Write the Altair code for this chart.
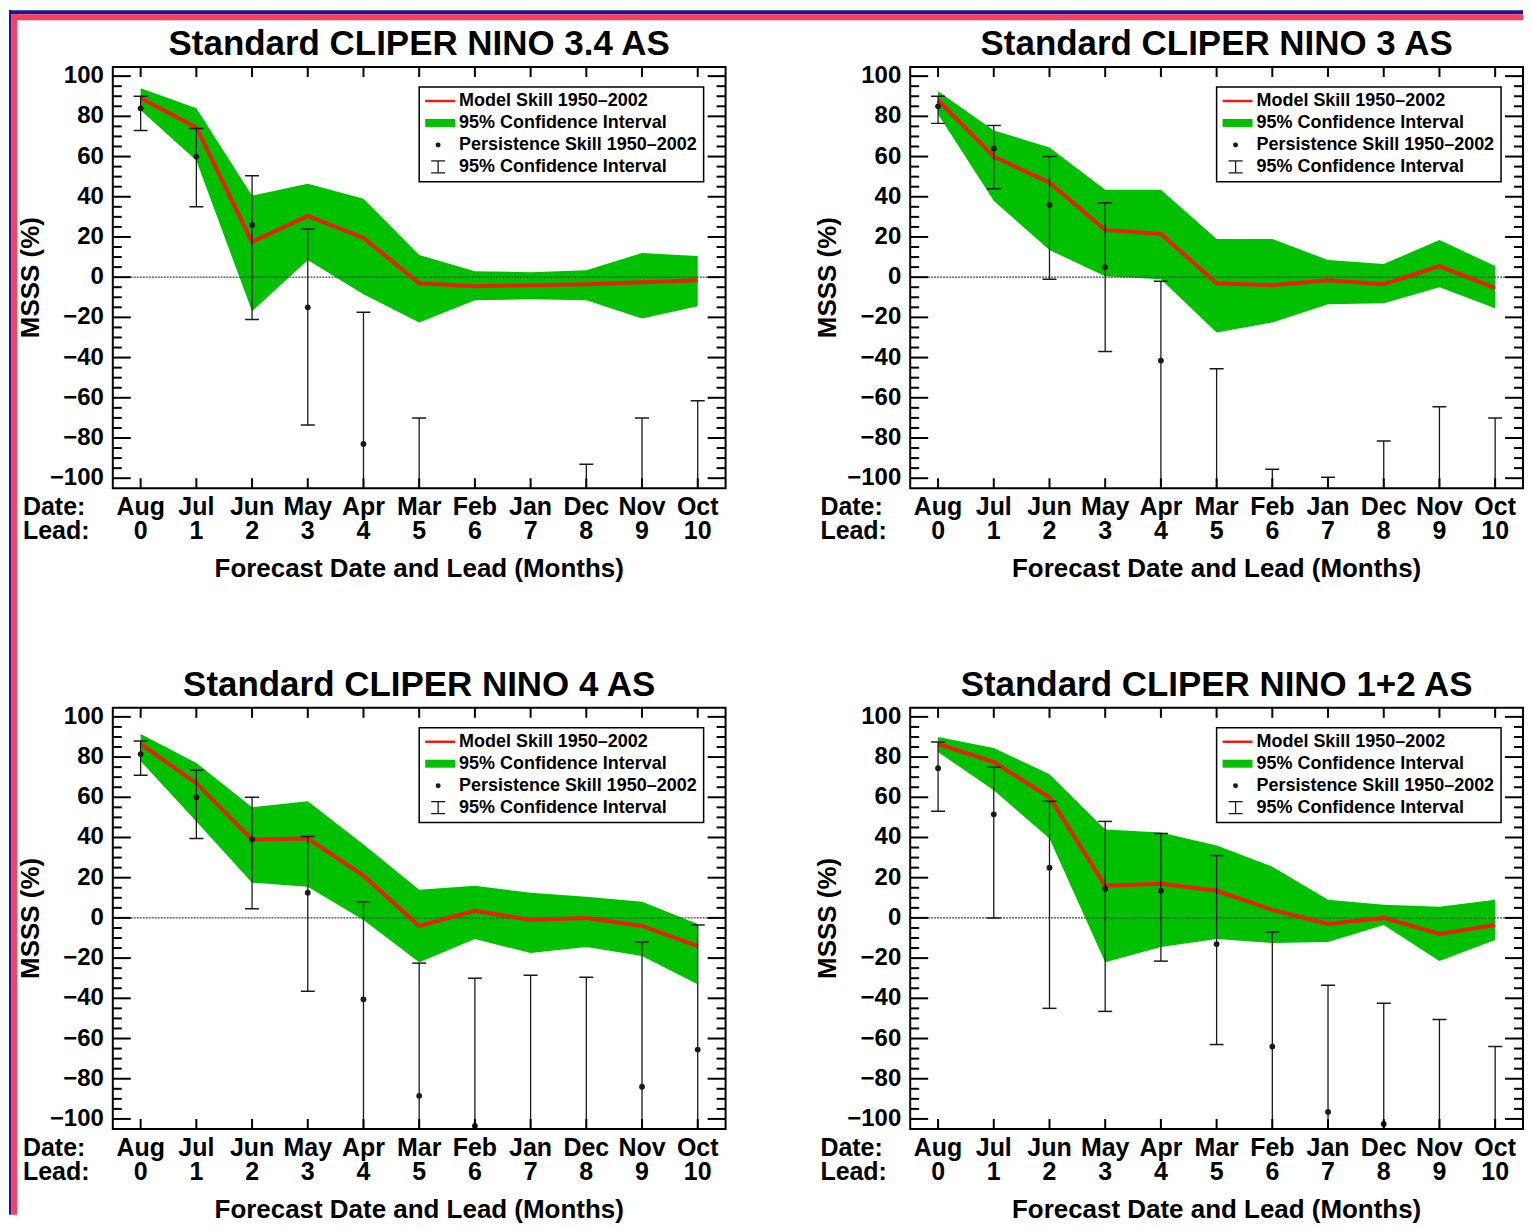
import altair as alt
import pandas as pd

# ---------------- data ----------------
months = ["Aug", "Jul", "Jun", "May", "Apr", "Mar", "Feb", "Jan", "Dec", "Nov", "Oct"]
leads = list(range(11))
titles = ["Standard CLIPER NINO 3.4 AS", "Standard CLIPER NINO 3 AS",
          "Standard CLIPER NINO 4 AS", "Standard CLIPER NINO 1+2 AS"]

# NINO 3.4
model_34 = [89, 74.5, 17.5, 30.5, 19.5, -3, -4.5, -4, -3.5, -2.5, -1.5]
hi_34 = [94, 84, 40.5, 46.5, 39, 11, 3, 2.5, 3.5, 12, 10.5]
lo_34 = [83, 58, -17, 8.5, -8.5, -22.5, -11.5, -11, -11.5, -20.5, -14.5]
pers_34 = [84, 60, 26, -15, -83, -135, -150, -160, -140, -125, -118]
ebhi_34 = [90, 74, 50.5, 24, -17.5, -70, -108, -112, -93, -70, -61.5]
eblo_34 = [73, 35, -21, -73.5, -150, -200, -190, -210, -190, -180, -175]

# NINO 3
model_3 = [88, 60, 47, 23.5, 21.5, -3, -4, -1.5, -3.5, 5.5, -5.5]
hi_3 = [92.5, 73, 64.5, 43.5, 43.5, 19, 19, 8.5, 6.5, 18.5, 5.5]
lo_3 = [81, 38, 13.5, 0.5, -1, -27.5, -22.5, -13.5, -13, -5, -15.5]
pers_3 = [85, 64, 36, 5, -41.5, -130, -150, -160, -140, -120, -125]
ebhi_3 = [90, 75.5, 60, 37, -2, -45.5, -95.5, -99.5, -81.5, -64.5, -70]
eblo_3 = [76.5, 44, -1, -37, -150, -200, -200, -200, -200, -190, -190]

# NINO 4
model_4 = [86.5, 67, 39, 39.5, 21, -4, 3.5, -1, 0, -4, -14]
hi_4 = [91.5, 77, 55, 58, 36.5, 14, 16, 12.5, 10.5, 8, -3]
lo_4 = [78, 48, 17.5, 15.5, -1, -22, -10.5, -17.5, -14.5, -19, -33]
pers_4 = [81.5, 60, 39, 12.5, -40.5, -88.5, -103.5, -115, -112, -84, -65.5]
ebhi_4 = [88, 73.5, 60, 40.5, 8, -22.5, -30, -28.5, -29.5, -12, -3.5]
eblo_4 = [71, 39.5, 4.5, -36.5, -130, -190, -200, -200, -200, -190, -160]

# NINO 1+2
model_12 = [86.5, 77.5, 60, 16, 17, 13.5, 4, -3, 0, -8, -3.5]
hi_12 = [90, 84.5, 71.5, 44, 42.5, 36, 25.5, 9, 6.5, 5.5, 9]
lo_12 = [82.5, 63.5, 39.5, -22, -14.5, -10.5, -12.5, -12, -3.5, -21.5, -11]
pers_12 = [74.5, 51.5, 25, 14.5, 13.5, -13, -64, -96.5, -102.5, -120, -130]
ebhi_12 = [87.5, 75, 58, 48, 42, 31, -7, -33.5, -42.5, -50.5, -64]
eblo_12 = [53, 0, -45, -46.5, -21.5, -63, -150, -160, -170, -180, -190]

legend_labels = ["Model Skill 1950\u20132002", "95% Confidence Interval",
                 "Persistence Skill 1950\u20132002", "95% Confidence Interval"]
date_lead_labels = ["Date:", "Lead:"]
x_title = "Forecast Date and Lead (Months)"
y_title = "MSSS (%)"
y_major = list(range(-100, 101, 20))
y_major_labels = [("\u2212%d" % -v) if v < 0 else str(v) for v in y_major]
y_minor = [v for v in range(-100, 101, 5) if v % 20 != 0]

# ---------------- style ----------------
W, H = 614, 422
FONT = "Liberation Sans"
RED = "#e82010"
GREEN = "#00c000"
INK = "#1a1a1a"
NAVY = "#14199a"
PINK = "#fa3f5e"

xs = alt.Scale(domain=[-0.5, 10.5], nice=False, zero=False)
ys = alt.Scale(domain=[-105, 104.5], nice=False, zero=False)
one = pd.DataFrame({"k": [0]})
X = alt.X("lead:Q", scale=xs, axis=None)
hidden_axis = alt.Axis(labels=False, ticks=False, domain=False, grid=False, title=None)


def txt(s, x, y, size, align="left", baseline="middle", angle=0):
    return alt.Chart(pd.DataFrame({"t": [s]})).mark_text(
        font=FONT, fontWeight="bold", fontSize=size, color="black",
        align=align, baseline=baseline, angle=angle).encode(
        text="t:N", x=alt.value(x), y=alt.value(y))


def box(x1, x2, y1, y2, color):
    return alt.Chart(one).mark_rect(color=color, opacity=1).encode(
        x=alt.value(x1), x2=alt.value(x2), y=alt.value(y1), y2=alt.value(y2))


def panel(title, model, hi, lo, pers, ebhi, eblo, border=False):
    df = pd.DataFrame(dict(lead=leads, month=months, leadtxt=[str(v) for v in leads],
                           model=model, hi=hi, lo=lo,
                           pers=pers, ebhi=ebhi, eblo=eblo))
    base = alt.Chart(df)
    Yv = alt.Y("v:Q", scale=ys, axis=None)

    band = base.mark_area(color=GREEN, opacity=1).encode(
        x=alt.X("lead:Q", scale=xs, axis=hidden_axis),
        y=alt.Y("lo:Q", scale=ys, axis=hidden_axis), y2="hi:Q")
    zero = alt.Chart(pd.DataFrame({"v": [0]})).mark_rule(
        color="#444", strokeWidth=1.3, strokeDash=[2, 1]).encode(y=Yv)
    line = base.mark_line(color=RED, strokeWidth=4).encode(
        x=X, y=alt.Y("model:Q", scale=ys, axis=None))
    ebar = base.mark_rule(color=INK, strokeWidth=1.3, clip=True).encode(
        x=X, y=alt.Y("ebhi:Q", scale=ys, axis=None), y2="eblo:Q")
    cap_hi = base.mark_tick(orient="horizontal", size=14, thickness=1.5,
                            color=INK, opacity=1, clip=True).encode(
        x=X, y=alt.Y("ebhi:Q", scale=ys, axis=None))
    cap_lo = base.mark_tick(orient="horizontal", size=14, thickness=1.5,
                            color=INK, opacity=1, clip=True).encode(
        x=X, y=alt.Y("eblo:Q", scale=ys, axis=None))
    pts = base.mark_circle(size=34, color=INK, opacity=1, clip=True).encode(
        x=X, y=alt.Y("pers:Q", scale=ys, axis=None))

    ymaj = alt.Chart(pd.DataFrame({"v": y_major, "lab": y_major_labels}))
    ymin = alt.Chart(pd.DataFrame({"v": y_minor}))
    xt = alt.Chart(pd.DataFrame({"lead": leads}))
    tk = dict(color="black", strokeWidth=2)
    ticks = [
        ymaj.mark_rule(**tk).encode(y=Yv, x=alt.value(0), x2=alt.value(18)),
        ymaj.mark_rule(**tk).encode(y=Yv, x=alt.value(W), x2=alt.value(W - 18)),
        ymin.mark_rule(**tk).encode(y=Yv, x=alt.value(0), x2=alt.value(9)),
        ymin.mark_rule(**tk).encode(y=Yv, x=alt.value(W), x2=alt.value(W - 9)),
        xt.mark_rule(**tk).encode(x=X, y=alt.value(0), y2=alt.value(10)),
        xt.mark_rule(**tk).encode(x=X, y=alt.value(H), y2=alt.value(H - 10)),
    ]

    # axis labels as text marks positioned through the scales
    tfont = dict(font=FONT, fontWeight="bold", color="black")
    axis_text = [
        ymaj.mark_text(fontSize=24, align="right", baseline="middle", **tfont).encode(
            y=Yv, x=alt.value(-9), text="lab:N"),
        base.mark_text(fontSize=25, align="center", baseline="alphabetic", **tfont).encode(
            x=X, y=alt.value(H + 27), text="month:N"),
        base.mark_text(fontSize=25, align="center", baseline="alphabetic", **tfont).encode(
            x=X, y=alt.value(H + 51), text="leadtxt:N"),
        txt(x_title, W / 2, H + 89, 26, align="center", baseline="alphabetic"),
        txt(y_title, -82, H / 2, 26, align="center", baseline="middle", angle=270),
        txt(date_lead_labels[0], -90, H + 27, 25, baseline="alphabetic"),
        txt(date_lead_labels[1], -90, H + 51, 25, baseline="alphabetic"),
        txt(title, W / 2, -12, 35, align="center", baseline="alphabetic"),
    ]

    # legend
    lx1, lx2, ly1, ly2 = 307, 592, 20, 115
    rows = [34, 56, 78, 100]
    leg = [
        alt.Chart(one).mark_rect(fill="white", stroke="black", strokeWidth=1.5).encode(
            x=alt.value(lx1), x2=alt.value(lx2), y=alt.value(ly1), y2=alt.value(ly2)),
        alt.Chart(one).mark_rule(color=RED, strokeWidth=2.5).encode(
            x=alt.value(313), x2=alt.value(343), y=alt.value(rows[0])),
        box(313, 343, rows[1] - 4, rows[1] + 4, GREEN),
        alt.Chart(one).mark_circle(size=25, color=INK, opacity=1).encode(
            x=alt.value(326), y=alt.value(rows[2])),
        alt.Chart(one).mark_rule(color=INK, strokeWidth=1.3).encode(
            x=alt.value(326), y=alt.value(rows[3] - 6), y2=alt.value(rows[3] + 6)),
        alt.Chart(one).mark_rule(color=INK, strokeWidth=1.3).encode(
            x=alt.value(319), x2=alt.value(333), y=alt.value(rows[3] - 6)),
        alt.Chart(one).mark_rule(color=INK, strokeWidth=1.3).encode(
            x=alt.value(319), x2=alt.value(333), y=alt.value(rows[3] + 6)),
    ]
    leg += [txt(lab, 347, r, 18) for lab, r in zip(legend_labels, rows)]

    layers = [band, zero, line, ebar, cap_hi, cap_lo, pts] + ticks + leg + axis_text
    if border:
        layers += [
            box(-104, -101.5, -57, 1150, NAVY),
            box(-101.5, -96, -53, 1150, PINK),
            box(-104, 1413, -57, -53, NAVY),
            box(-101.5, 1413, -53, -47, PINK),
        ]
    return alt.layer(*layers).properties(width=W, height=H)


p1 = panel(titles[0], model_34, hi_34, lo_34, pers_34, ebhi_34, eblo_34, border=True)
p2 = panel(titles[1], model_3, hi_3, lo_3, pers_3, ebhi_3, eblo_3)
p3 = panel(titles[2], model_4, hi_4, lo_4, pers_4, ebhi_4, eblo_4)
p4 = panel(titles[3], model_12, hi_12, lo_12, pers_12, ebhi_12, eblo_12)

chart = alt.concat(p1, p2, p3, p4, columns=2,
                   spacing={"row": 220, "column": 185}, bounds="flush",
                   padding=0, background="white").configure_view(
    stroke="black", strokeWidth=2)

chart.save("out.html", embed_options={"renderer": "svg", "actions": False})
